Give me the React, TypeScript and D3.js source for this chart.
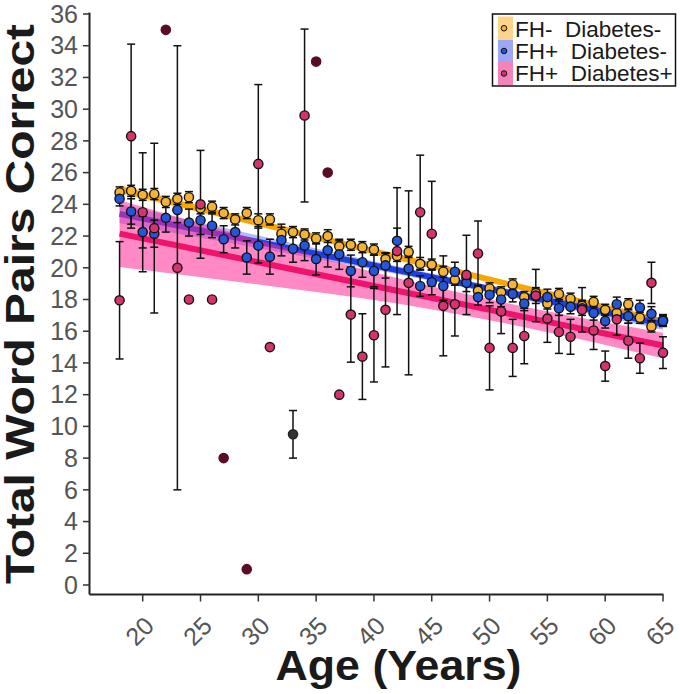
import React from 'react';
import * as d3 from 'd3';

// ---------- data ----------
const ages = [18,19,20,21,22,23,24,25,26,27,28,29,30,31,32,33,34,35,36,37,38,39,40,41,42,43,44,45,46,47,48,49,50,51,52,53,54,55,56,57,58,59,60,61,62,63,64,65];

// FH- Diabetes-
const orangeMean = [24.75,24.85,24.6,24.65,24.15,24.35,24.45,23.75,23.85,23.45,23.05,23.45,23.0,23.05,22.15,22.25,22.1,21.85,22.0,21.35,21.45,21.3,21.15,20.55,20.75,21.0,20.25,20.2,19.75,19.25,19.35,18.55,18.7,18.45,18.95,18.15,18.4,17.75,18.35,18.05,17.6,17.85,17.35,17.15,17.7,16.85,16.3,16.7];
const orangeErr = [0.35,0.35,0.35,0.35,0.35,0.35,0.35,0.35,0.35,0.35,0.35,0.35,0.4,0.35,0.4,0.35,0.35,0.35,0.4,0.35,0.35,0.35,0.35,0.35,0.35,0.35,0.4,0.35,0.35,0.35,0.35,0.35,0.35,0.35,0.35,0.35,0.35,0.35,0.35,0.35,0.35,0.35,0.35,0.35,0.35,0.35,0.35,0.35];

// FH+ Diabetes-
const blueMean = [24.35,23.55,22.25,22.15,23.15,23.65,22.85,23.0,22.65,21.8,22.25,20.65,21.4,20.7,21.75,21.2,21.4,20.55,21.1,20.85,19.8,20.35,19.8,20.15,21.7,19.95,18.85,19.1,18.85,19.75,19.05,18.15,18.3,18.0,18.35,17.75,18.2,18.15,17.45,17.55,17.45,17.15,16.65,17.7,16.95,17.5,17.1,16.65];
const blueErr = [0.45,0.8,1.0,0.85,0.9,0.8,0.85,0.9,0.75,0.85,1.0,1.05,1.1,1.1,1.0,0.85,0.95,1.0,1.05,0.95,1.0,0.95,1.0,0.8,0.8,0.8,0.65,0.8,0.9,0.6,0.55,0.5,0.5,0.45,0.5,0.45,0.45,0.5,0.45,0.45,0.45,0.45,0.45,0.45,0.45,0.45,0.45,0.35];

// FH+ Diabetes+ (ages with several participants)
const pinkAges = [18,19,20,21,23,25,30,34,38,39,40,41,42,43,44,45,46,47,48,49,50,51,52,53,54,55,56,57,58,59,60,61,62,63,64,65];
const pinkMean = [17.95,28.3,23.5,22.5,20.0,24.0,26.55,29.6,17.05,14.4,15.75,17.35,21.05,19.05,23.5,22.15,17.6,17.7,19.55,20.9,14.95,17.25,14.95,15.7,18.25,16.8,15.95,15.65,17.35,16.05,13.8,16.75,15.4,14.3,19.05,14.65];
const pinkErr = [3.7,5.8,3.75,5.35,14,3.4,5.0,5.45,3.0,2.7,2.95,3.6,4.0,5.8,3.6,3.3,3.15,2.0,2.5,2.05,2.65,1.4,1.8,1.75,1.65,1.5,1.35,1.1,1.4,1.2,0.95,1.0,1.1,0.95,1.3,1.0];
// FH+ Diabetes+ single observations
const pinkSingleAges = [24,26,31,37];
const pinkSingleValues = [18,18,15,12];
const darkSingleAges = [22,27,29,35,36];
const darkSingleValues = [35,8,1,33,26];
// other point
const greyAges = [33];
const greyMean = [9.5];
const greyErr = [1.5];

// fitted lines and confidence bands
const fitAges = [18,30,42,54,65];
const orangeFit = [24.95,22.82,20.68,18.55,16.6];
const orangeHalf = [0.3,0.2,0.15,0.15,0.25];
const blueFit = [23.4,21.63,19.85,18.08,16.45];
const blueHalf = [0.6,0.4,0.25,0.25,0.35];
const pinkFit = [22.15,20.35,18.55,16.75,15.1];
const pinkHalf = [2.1,1.4,0.8,0.65,0.8];

const yTicks = [0,2,4,6,8,10,12,14,16,18,20,22,24,26,28,30,32,34,36];
const xTicks = [20,25,30,35,40,45,50,55,60,65];
const legendLabels = ['FH-  Diabetes-','FH+  Diabetes-','FH+  Diabetes+'];

// ---------- styling ----------
const C = {
  orange: '#F4B332', orangeLine: '#F8A602', orangeBand: 'rgba(255,200,90,0.55)', orangeSw: '#FDD48B',
  blue: '#2457D8', blueLine: '#1C40E2', blueBand: 'rgba(110,110,250,0.5)', blueSw: '#9EA7F4',
  pink: '#D6336C', pinkLine: '#EF136B', pinkBand: 'rgba(255,40,150,0.55)', pinkSw: '#F482BB',
  dark: '#5B0A27', grey: '#333333',
};
const FONT = '"Liberation Sans", Arial, Helvetica, sans-serif';

export default function App() {
  const x = d3.scaleLinear().domain([20, 65]).range([142.7, 663]);
  const y = d3.scaleLinear().domain([0, 36]).range([585, 14]);
  const axisX = 89.5;
  const axisY = 594.5;

  const band = (fit: number[], half: number[]) =>
    d3.area<number>()
      .x((_, i) => x(fitAges[i]))
      .y0((_, i) => y(fit[i] - half[i]))
      .y1((_, i) => y(fit[i] + half[i]))
      .curve(d3.curveMonotoneX)(fit) as string;
  const line = (fit: number[]) =>
    d3.line<number>().x((_, i) => x(fitAges[i])).y((d) => y(d))(fit) as string;

  const errBars = (as: number[], ms: number[], es: number[], key: string) =>
    as.map((a, i) => {
      const cx = x(a);
      const y1 = y(ms[i] + es[i]);
      const y2 = y(ms[i] - es[i]);
      return (
        <g key={key + i} stroke="#111" strokeWidth={1.5}>
          <line x1={cx} x2={cx} y1={y1} y2={y2} />
          <line x1={cx - 4} x2={cx + 4} y1={y1} y2={y1} />
          <line x1={cx - 4} x2={cx + 4} y1={y2} y2={y2} />
        </g>
      );
    });
  const pts = (as: number[], ms: number[], fill: string, key: string, stroke = '#111') =>
    as.map((a, i) => (
      <circle key={key + i} cx={x(a)} cy={y(ms[i])} r={4.6} fill={fill} stroke={stroke} strokeWidth={1.4} />
    ));

  const swatches = [
    { sw: C.orangeSw, dot: C.orange },
    { sw: C.blueSw, dot: C.blue },
    { sw: C.pinkSw, dot: C.pink },
  ];

  return (
    <svg width={680} height={694} style={{ position: 'absolute', left: 0, top: 0, background: '#fff' }} fontFamily={FONT}>
      {/* bands and fits */}
      <path d={band(orangeFit, orangeHalf)} fill={C.orangeBand} />
      <path d={line(orangeFit)} stroke={C.orangeLine} strokeWidth={6} fill="none" />
      <path d={band(blueFit, blueHalf)} fill={C.blueBand} />
      <path d={line(blueFit)} stroke={C.blueLine} strokeWidth={6} fill="none" />
      <path d={band(pinkFit, pinkHalf)} fill={C.pinkBand} />
      <path d={line(pinkFit)} stroke={C.pinkLine} strokeWidth={6} fill="none" />

      {/* error bars */}
      {errBars(pinkAges, pinkMean, pinkErr, 'pe')}
      {errBars(greyAges, greyMean, greyErr, 'ge')}
      {errBars(ages, blueMean, blueErr, 'be')}
      {errBars(ages, orangeMean, orangeErr, 'oe')}

      {/* points */}
      {pts(ages, orangeMean, C.orange, 'op')}
      {pts(ages, blueMean, C.blue, 'bp')}
      {pts(pinkAges, pinkMean, C.pink, 'pp')}
      {pts(pinkSingleAges, pinkSingleValues, C.pink, 'ps')}
      {pts(darkSingleAges, darkSingleValues, C.dark, 'ds', C.dark)}
      {pts(greyAges, greyMean, C.grey, 'gp', '#222')}

      {/* axes */}
      <line x1={axisX} x2={axisX} y1={12.5} y2={axisY} stroke="#222" strokeWidth={2} />
      <line x1={axisX} x2={663.5} y1={axisY} y2={axisY} stroke="#222" strokeWidth={2} />
      {yTicks.map((t) => (
        <g key={'yt' + t}>
          <line x1={axisX - 6.5} x2={axisX} y1={y(t)} y2={y(t)} stroke="#333" strokeWidth={1.5} />
          <text x={78} y={y(t)} dy="0.35em" textAnchor="end" fontSize={25} fill="#555">{t}</text>
        </g>
      ))}
      {xTicks.map((t) => (
        <g key={'xt' + t}>
          <line x1={x(t)} x2={x(t)} y1={axisY} y2={axisY + 7} stroke="#333" strokeWidth={1.5} />
          <text transform={`translate(${x(t) + 13},${axisY + 33}) rotate(-45)`} textAnchor="end" fontSize={25} fill="#555">{t}</text>
        </g>
      ))}

      {/* titles */}
      <text x={398.5} y={680} textAnchor="middle" fontSize={42} fontWeight="bold" fill="#1a1a1a" textLength={246} lengthAdjust="spacingAndGlyphs">Age (Years)</text>
      <text transform="translate(34,304) rotate(-90)" textAnchor="middle" fontSize={40} fontWeight="bold" fill="#1a1a1a" textLength={560} lengthAdjust="spacingAndGlyphs">Total Word Pairs Correct</text>

      {/* legend */}
      <rect x={492.5} y={14} width={183} height={72} fill="#fff" stroke="#111" strokeWidth={1.5} />
      {legendLabels.map((lab, i) => {
        const top = [16.5, 40, 62][i];
        const h = [23.5, 22, 23][i];
        return (
          <g key={'lg' + i}>
            <rect x={498} y={top} width={15} height={h} fill={swatches[i].sw} />
            <circle cx={504} cy={top + h / 2} r={2.8} fill={swatches[i].dot} stroke="#111" strokeWidth={1} />
            <text x={515} y={[36.5, 59, 81][i]} fontSize={22.5} fill="#1a1a1a" style={{ whiteSpace: 'pre' }}>{lab}</text>
          </g>
        );
      })}
    </svg>
  );
}
